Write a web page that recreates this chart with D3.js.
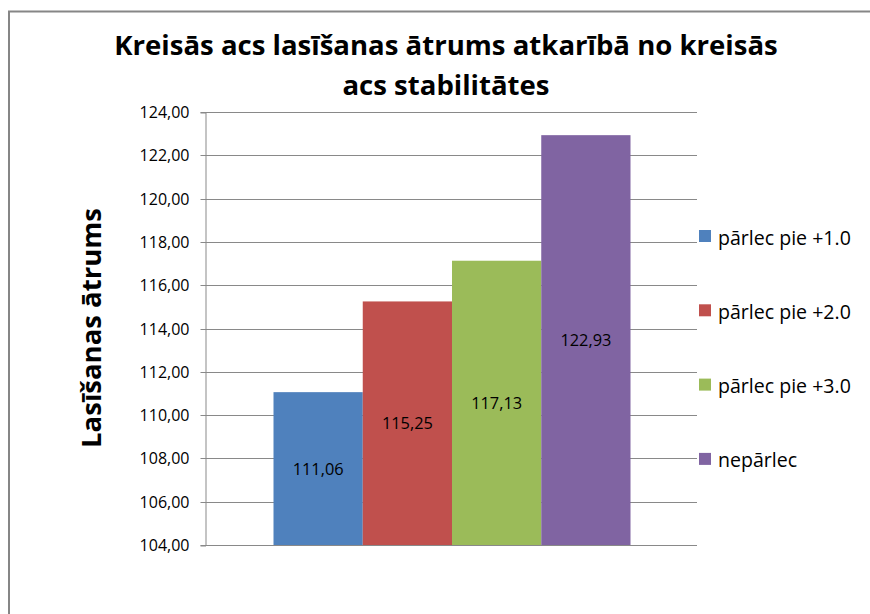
<!DOCTYPE html>
<html><head><meta charset="utf-8">
<script src="https://cdn.jsdelivr.net/npm/d3@7"></script>
<style>body{margin:0;background:#fff}svg{display:block}</style>
</head><body>
<svg id="c" width="870" height="614"></svg>
<script>
const titleLines = ["Kreisās acs lasīšanas ātrums atkarībā no kreisās", "acs stabilitātes"];
const yAxisTitle = "Lasīšanas ātrums";
const seriesNames = ["pārlec pie +1.0", "pārlec pie +2.0", "pārlec pie +3.0", "nepārlec"];
const seriesValues = [111.06, 115.25, 117.13, 122.93];
const seriesColors = ["#4f81bd", "#c0504d", "#9bbb59", "#8064a2"];
const yTicks = [104, 106, 108, 110, 112, 114, 116, 118, 120, 122, 124];

const FONT = "'Open Sans', 'Noto Sans', sans-serif";
const svg = d3.select("#c");
const fmt = v => d3.format(".2f")(v).replace(".", ",");
function fitSize(sel, base, target) {
  const w = d3.max(sel.nodes(), n => n.getComputedTextLength());
  sel.style("font-size", (base * target / w) + "px");
}

// chart border
svg.append("rect").attr("x", 9).attr("y", 11.5).attr("width", 900).attr("height", 700)
  .attr("fill", "#fff").attr("stroke", "#868686").attr("stroke-width", 2);

const plot = {left: 205, right: 697, top: 112, bottom: 545};
const y = d3.scaleLinear().domain([104, 124]).range([plot.bottom, plot.top]);
const x = d3.scaleBand().domain(seriesNames).range([273.5, 630.5]).padding(0);

// gridlines
svg.append("g").selectAll("line").data(yTicks).join("line")
  .attr("x1", plot.left).attr("x2", plot.right)
  .attr("y1", d => Math.round(y(d)) + 0.5).attr("y2", d => Math.round(y(d)) + 0.5)
  .attr("stroke", "#898989").attr("stroke-width", 1);

// y axis
const yAxis = d3.axisLeft(y).tickValues(yTicks).tickFormat(fmt).tickSize(5).tickPadding(11);
const ga = svg.append("g").attr("transform", `translate(${plot.left + 0.5},0.5)`).call(yAxis);
ga.select(".domain").attr("stroke", "#898989");
ga.selectAll(".tick line").attr("stroke", "#898989");
const tickTexts = ga.selectAll(".tick text").attr("fill", "#000").style("font-family", FONT).style("font-size", "15px");
fitSize(tickTexts, 15, 50);
ga.selectAll(".tick").attr("transform", d => `translate(0,${Math.round(y(d))})`);

// bars
svg.append("g").selectAll("rect").data(seriesNames).join("rect")
  .attr("x", d => x(d)).attr("width", x.bandwidth())
  .attr("y", (d, i) => y(seriesValues[i])).attr("height", (d, i) => plot.bottom - y(seriesValues[i]))
  .attr("fill", (d, i) => seriesColors[i]);

// bar labels
const bl = svg.append("g").selectAll("text").data(seriesNames).join("text")
  .attr("x", d => x(d) + x.bandwidth() / 2)
  .attr("y", (d, i) => (y(seriesValues[i]) + plot.bottom) / 2)
  .attr("text-anchor", "middle").attr("dominant-baseline", "central")
  .style("font-family", FONT).style("font-size", "15px").attr("fill", "#000")
  .text((d, i) => fmt(seriesValues[i]));
fitSize(bl, 15, 51);

// title
const tl = svg.append("g").selectAll("text").data(titleLines).join("text")
  .attr("x", 446).attr("y", (d, i) => 55 + i * 40)
  .attr("text-anchor", "middle").style("font-family", FONT).style("font-weight", "bold")
  .style("font-size", "24px").attr("fill", "#000").text(d => d);
fitSize(tl, 24, 664);

// y-axis title
const yt = svg.append("text").attr("transform", "translate(101,328) rotate(-90)")
  .attr("text-anchor", "middle").style("font-family", FONT).style("font-weight", "bold")
  .style("font-size", "24px").attr("fill", "#000").text(yAxisTitle);
fitSize(yt, 24, 240);

// legend
const lg = svg.append("g").selectAll("g").data(seriesNames).join("g")
  .attr("transform", (d, i) => `translate(699,${236 + i * 74.3})`);
lg.append("rect").attr("x", 0).attr("y", -6).attr("width", 12).attr("height", 12)
  .attr("fill", (d, i) => seriesColors[i]);
const lt = lg.append("text").attr("x", 19).attr("y", 1).attr("dominant-baseline", "central")
  .style("font-family", FONT).style("font-size", "17px").attr("fill", "#000").text(d => d);
fitSize(lt, 17, 133);
</script>
</body></html>
